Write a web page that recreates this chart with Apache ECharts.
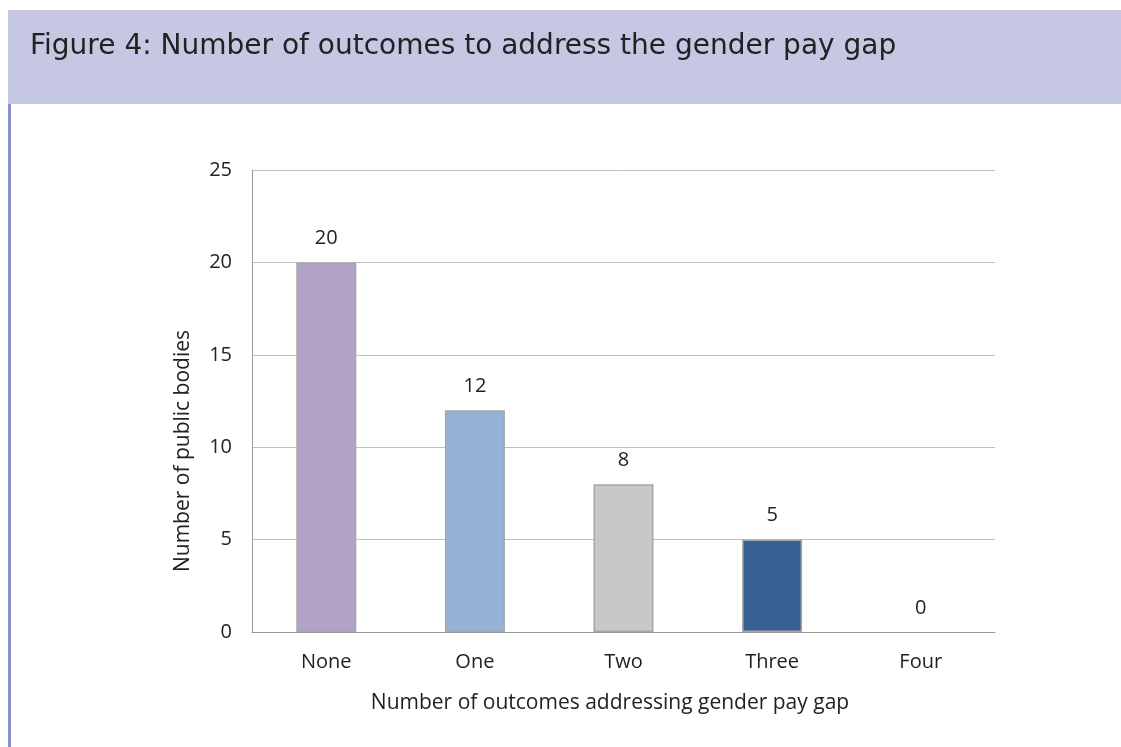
<!DOCTYPE html>
<html>
<head>
<meta charset="utf-8">
<script src="https://cdn.jsdelivr.net/npm/echarts@6/dist/echarts.min.js"></script>
<style>
html,body{margin:0;padding:0;background:#fff;}
#chart{width:1121px;height:747px;}
</style>
</head>
<body>
<div id="chart"></div>
<script>
var categories = ["None", "One", "Two", "Three", "Four"];
var values = [20, 12, 8, 5, 0];
var barColors = ["#b3a2c8", "#95b3d7", "#c8c8c8", "#366092", "#4f81bd"];
var yTicks = [0, 5, 10, 15, 20, 25];
var titleText = "Figure 4: Number of outcomes to address the gender pay gap";
var yName = "Number of public bodies";
var xName = "Number of outcomes addressing gender pay gap";

var chart = echarts.init(document.getElementById('chart'), null, {renderer: 'canvas'});
var font = "'Open Sans', 'Noto Sans', sans-serif";
var fs = 20;
chart.setOption({
  animation: false,
  backgroundColor: '#fff',
  graphic: [
    {type: 'rect', shape: {x: 8, y: 10, width: 1113, height: 94}, style: {fill: '#c6c7e3'}, silent: true},
    {type: 'rect', shape: {x: 8, y: 104, width: 3, height: 643}, style: {fill: '#8a8fcf'}, silent: true},
    {type: 'text', x: 30, y: 47, style: {text: titleText, fill: '#222222', font: "28px 'DejaVu Sans', sans-serif", textVerticalAlign: 'middle'}, silent: true},
    {type: 'text', x: 183, y: 451, rotation: Math.PI / 2, style: {text: yName, fill: '#222', font: '21px ' + font, textAlign: 'center', textVerticalAlign: 'middle'}, silent: true},
    {type: 'text', x: 610, y: 703, style: {text: xName, fill: '#222', font: '21px ' + font, textAlign: 'center', textVerticalAlign: 'middle'}, silent: true}
  ],
  grid: {left: 252, right: 126, top: 170, bottom: 115, containLabel: false},
  xAxis: {
    type: 'category',
    data: categories,
    axisLine: {show: true, lineStyle: {color: '#999999', width: 1}},
    axisTick: {show: false},
    axisLabel: {fontSize: fs, color: '#222', fontFamily: font, margin: 20}
  },
  yAxis: {
    type: 'value',
    min: 0, max: 25, interval: 5,
    axisLine: {show: true, lineStyle: {color: '#999999', width: 1}},
    axisTick: {show: false},
    axisLabel: {fontSize: fs, color: '#222', fontFamily: font, margin: 20,
      formatter: function (v) { return yTicks.indexOf(v) >= 0 ? String(v) : ''; }},
    splitLine: {show: true, lineStyle: {color: '#bfbfbf', width: 1}}
  },
  series: [{
    type: 'bar',
    data: values.map(function (v, i) {
      return {value: v, itemStyle: {color: barColors[i], borderColor: '#a6a6a6', borderWidth: v > 0 ? 1.5 : 0}};
    }),
    barWidth: 60,
    label: {show: true, position: 'top', distance: 14, fontSize: fs, color: '#222', fontFamily: font}
  }]
});
</script>
</body>
</html>
